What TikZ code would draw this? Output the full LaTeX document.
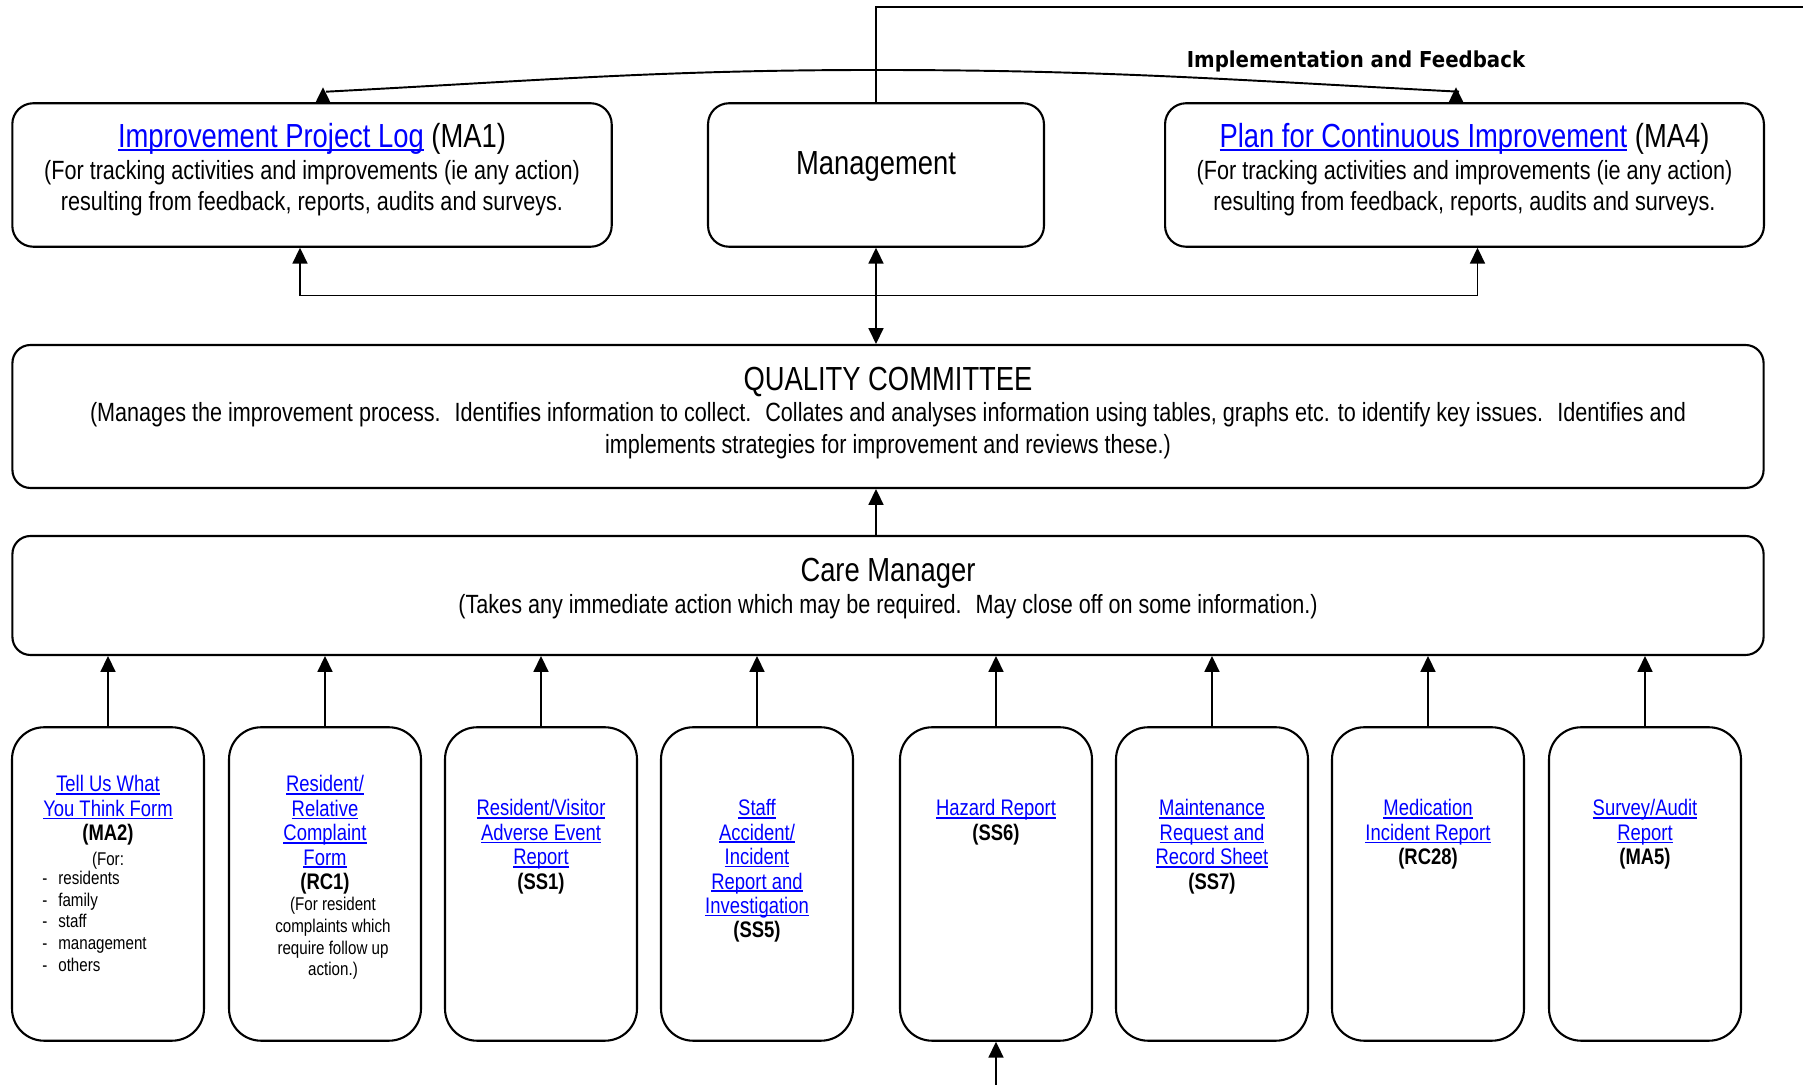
\documentclass[tikz,border=0pt]{standalone}
\usepackage{fontspec}
\setmainfont{Liberation Sans}[FakeStretch=0.82]
\newfontfamily\comicfont{DejaVu Sans}[FakeStretch=0.9]
\usepackage{xcolor}
\usetikzlibrary{arrows.meta,positioning}
\definecolor{linkblue}{HTML}{0000FF}
\newsavebox{\lnkbox}
\newcommand{\lnk}[1]{{\color{linkblue}\sbox{\lnkbox}{#1}\rlap{\rule[-1.6pt]{\wd\lnkbox}{0.9pt}}\usebox{\lnkbox}}}
\newcommand{\bigsize}{\fontsize{19pt}{22pt}\selectfont}
\newcommand{\bodysize}{\fontsize{15pt}{18pt}\selectfont}
\newcommand{\srcsize}{\fontsize{12.8pt}{13.9pt}\selectfont}
\newcommand{\notesize}{\fontsize{10.5pt}{12.3pt}\selectfont}
\tikzset{
  topbox/.style={draw,line width=1.2pt,rounded corners=0.42cm,minimum height=2.87cm,align=center,font=\bodysize,text depth=0.31cm},
  widebox/.style={draw,line width=1.2pt,rounded corners=0.36cm,minimum width=35.03cm,align=center,font=\bodysize},
  srcbox/.style={draw,line width=1.2pt,rounded corners=0.64cm,minimum width=3.84cm,minimum height=6.27cm},
  srctext/.style={anchor=north,align=center,inner sep=0pt,font=\srcsize},
  notetext/.style={align=center,inner sep=0pt,font=\notesize},
  fblabel/.style={inner sep=0pt,font=\comicfont\bfseries\fontsize{12.5pt}{14pt}\selectfont},
  conn/.style={line width=1.1pt},
  arr/.style={conn,-{Triangle[length=9pt,width=8.5pt]}},
  darr/.style={conn,{Triangle[length=9pt,width=8.5pt]}-{Triangle[length=9pt,width=8.5pt]}},
}
\begin{document}
\begin{tikzpicture}[x=0.02cm,y=0.02cm]
\useasboundingbox (0,0) rectangle (1803,1085);
% top row
\node[topbox,minimum width=11.99cm] (ma1) at (312,910) {{\bigsize\lnk{Improvement Project Log} (MA1)}\\(For tracking activities and improvements (ie any action)\\resulting from feedback, reports, audits and surveys.};
\node[topbox,minimum width=6.72cm,text depth=0.48cm] (mgmt) at (876,910) {{\bigsize Management}};
\node[topbox,minimum width=11.98cm] (ma4) at (1464.5,910) {{\bigsize\lnk{Plan for Continuous Improvement} (MA4)}\\(For tracking activities and improvements (ie any action)\\resulting from feedback, reports, audits and surveys.};
% committee and care manager
\node[widebox,minimum height=2.86cm,text depth=0.25cm] (qc) at (888,668.5) {{\bigsize QUALITY COMMITTEE}\\(Manages the improvement process.~ Identifies information to collect.~ Collates and analyses information using tables, graphs etc. to identify key issues.~ Identifies and\\implements strategies for improvement and reviews these.)};
\node[widebox,minimum height=2.38cm,text depth=0.38cm] (cm) at (888,489.5) {{\bigsize Care Manager}\\(Takes any immediate action which may be required.~ May close off on some information.)};
% source forms
\foreach \i/\x in {1/108,2/325,3/541,4/757,5/996,6/1212,7/1428,8/1645}
  \node[srcbox] (s\i) at (\x,201) {};
\node[srctext] (t1) at ([yshift=-0.98cm]s1.north) {\lnk{Tell Us What}\\\lnk{You Think Form}\\\textbf{(MA2)}\\{\notesize(For:}};
\node[notetext,anchor=north west,align=left] (l1) at (42,214) {\makebox[0.32cm][l]{-}residents\\\makebox[0.32cm][l]{-}family\\\makebox[0.32cm][l]{-}staff\\\makebox[0.32cm][l]{-}management\\\makebox[0.32cm][l]{-}others};
\node[srctext] (t2) at ([yshift=-0.98cm]s2.north) {\lnk{Resident/}\\\lnk{Relative}\\\lnk{Complaint}\\\lnk{Form}\\\textbf{(RC1)}};
\node[notetext,below=0.05cm of t2,xshift=0.16cm] (n2) {(For resident\\complaints which\\require follow up\\action.)};
\node[srctext] (t3) at ([yshift=-1.46cm]s3.north) {\lnk{Resident/Visitor}\\\lnk{Adverse Event}\\\lnk{Report}\\\textbf{(SS1)}};
\node[srctext] (t4) at ([yshift=-1.46cm]s4.north) {\lnk{Staff}\\\lnk{Accident/}\\\lnk{Incident}\\\lnk{Report and}\\\lnk{Investigation}\\\textbf{(SS5)}};
\node[srctext] (t5) at ([yshift=-1.46cm]s5.north) {\lnk{Hazard Report}\\\textbf{(SS6)}};
\node[srctext] (t6) at ([yshift=-1.46cm]s6.north) {\lnk{Maintenance}\\\lnk{Request and}\\\lnk{Record Sheet}\\\textbf{(SS7)}};
\node[srctext] (t7) at ([yshift=-1.46cm]s7.north) {\lnk{Medication}\\\lnk{Incident Report}\\\textbf{(RC28)}};
\node[srctext] (t8) at ([yshift=-1.46cm]s8.north) {\lnk{Survey/Audit}\\\lnk{Report}\\\textbf{(MA5)}};
% connectors
\foreach \i in {1,...,8} \draw[arr] (s\i.north) -- (s\i.north |- cm.south);
\draw[arr] (cm.north -| mgmt.south) -- (qc.south -| mgmt.south);
\draw[darr] (qc.north -| mgmt.south) -- (mgmt.south);
\coordinate (bus) at (876,789.5);
\draw[arr] (bus) -| ([xshift=-0.24cm]ma1.south);
\draw[arr] (bus) -| ([xshift=0.26cm]ma4.south);
% feedback curve, its heads sit on the boxes
\coordinate (fb) at (876,1015);
\coordinate (ap1) at ([xshift=0.22cm,yshift=0.3cm]ma1.north);
\coordinate (ap4) at ([xshift=-0.17cm,yshift=0.3cm]ma4.north);
\coordinate (ce1) at ([xshift=0.28cm,yshift=0.21cm]ma1.north);
\coordinate (ce4) at ([xshift=-0.11cm,yshift=0.21cm]ma4.north);
\draw[conn] (fb) to[out=180,in=3] (ce1);
\draw[conn] (fb) to[out=0,in=177] (ce4);
\draw[arr] ([xshift=0.22cm]ma1.north) -- (ap1);
\draw[arr] ([xshift=-0.17cm]ma4.north) -- (ap4);
\coordinate (topl) at (876,1078);
\coordinate (topr) at (1803,1078);
\draw[conn] (mgmt.north) -- (topl) -- (topr);
\node[fblabel] (fbl) at (1356,1024) {Implementation and Feedback};
\coordinate (base) at (996,0);
\draw[arr] (base) -- (s5.south);
\end{tikzpicture}
\end{document}
